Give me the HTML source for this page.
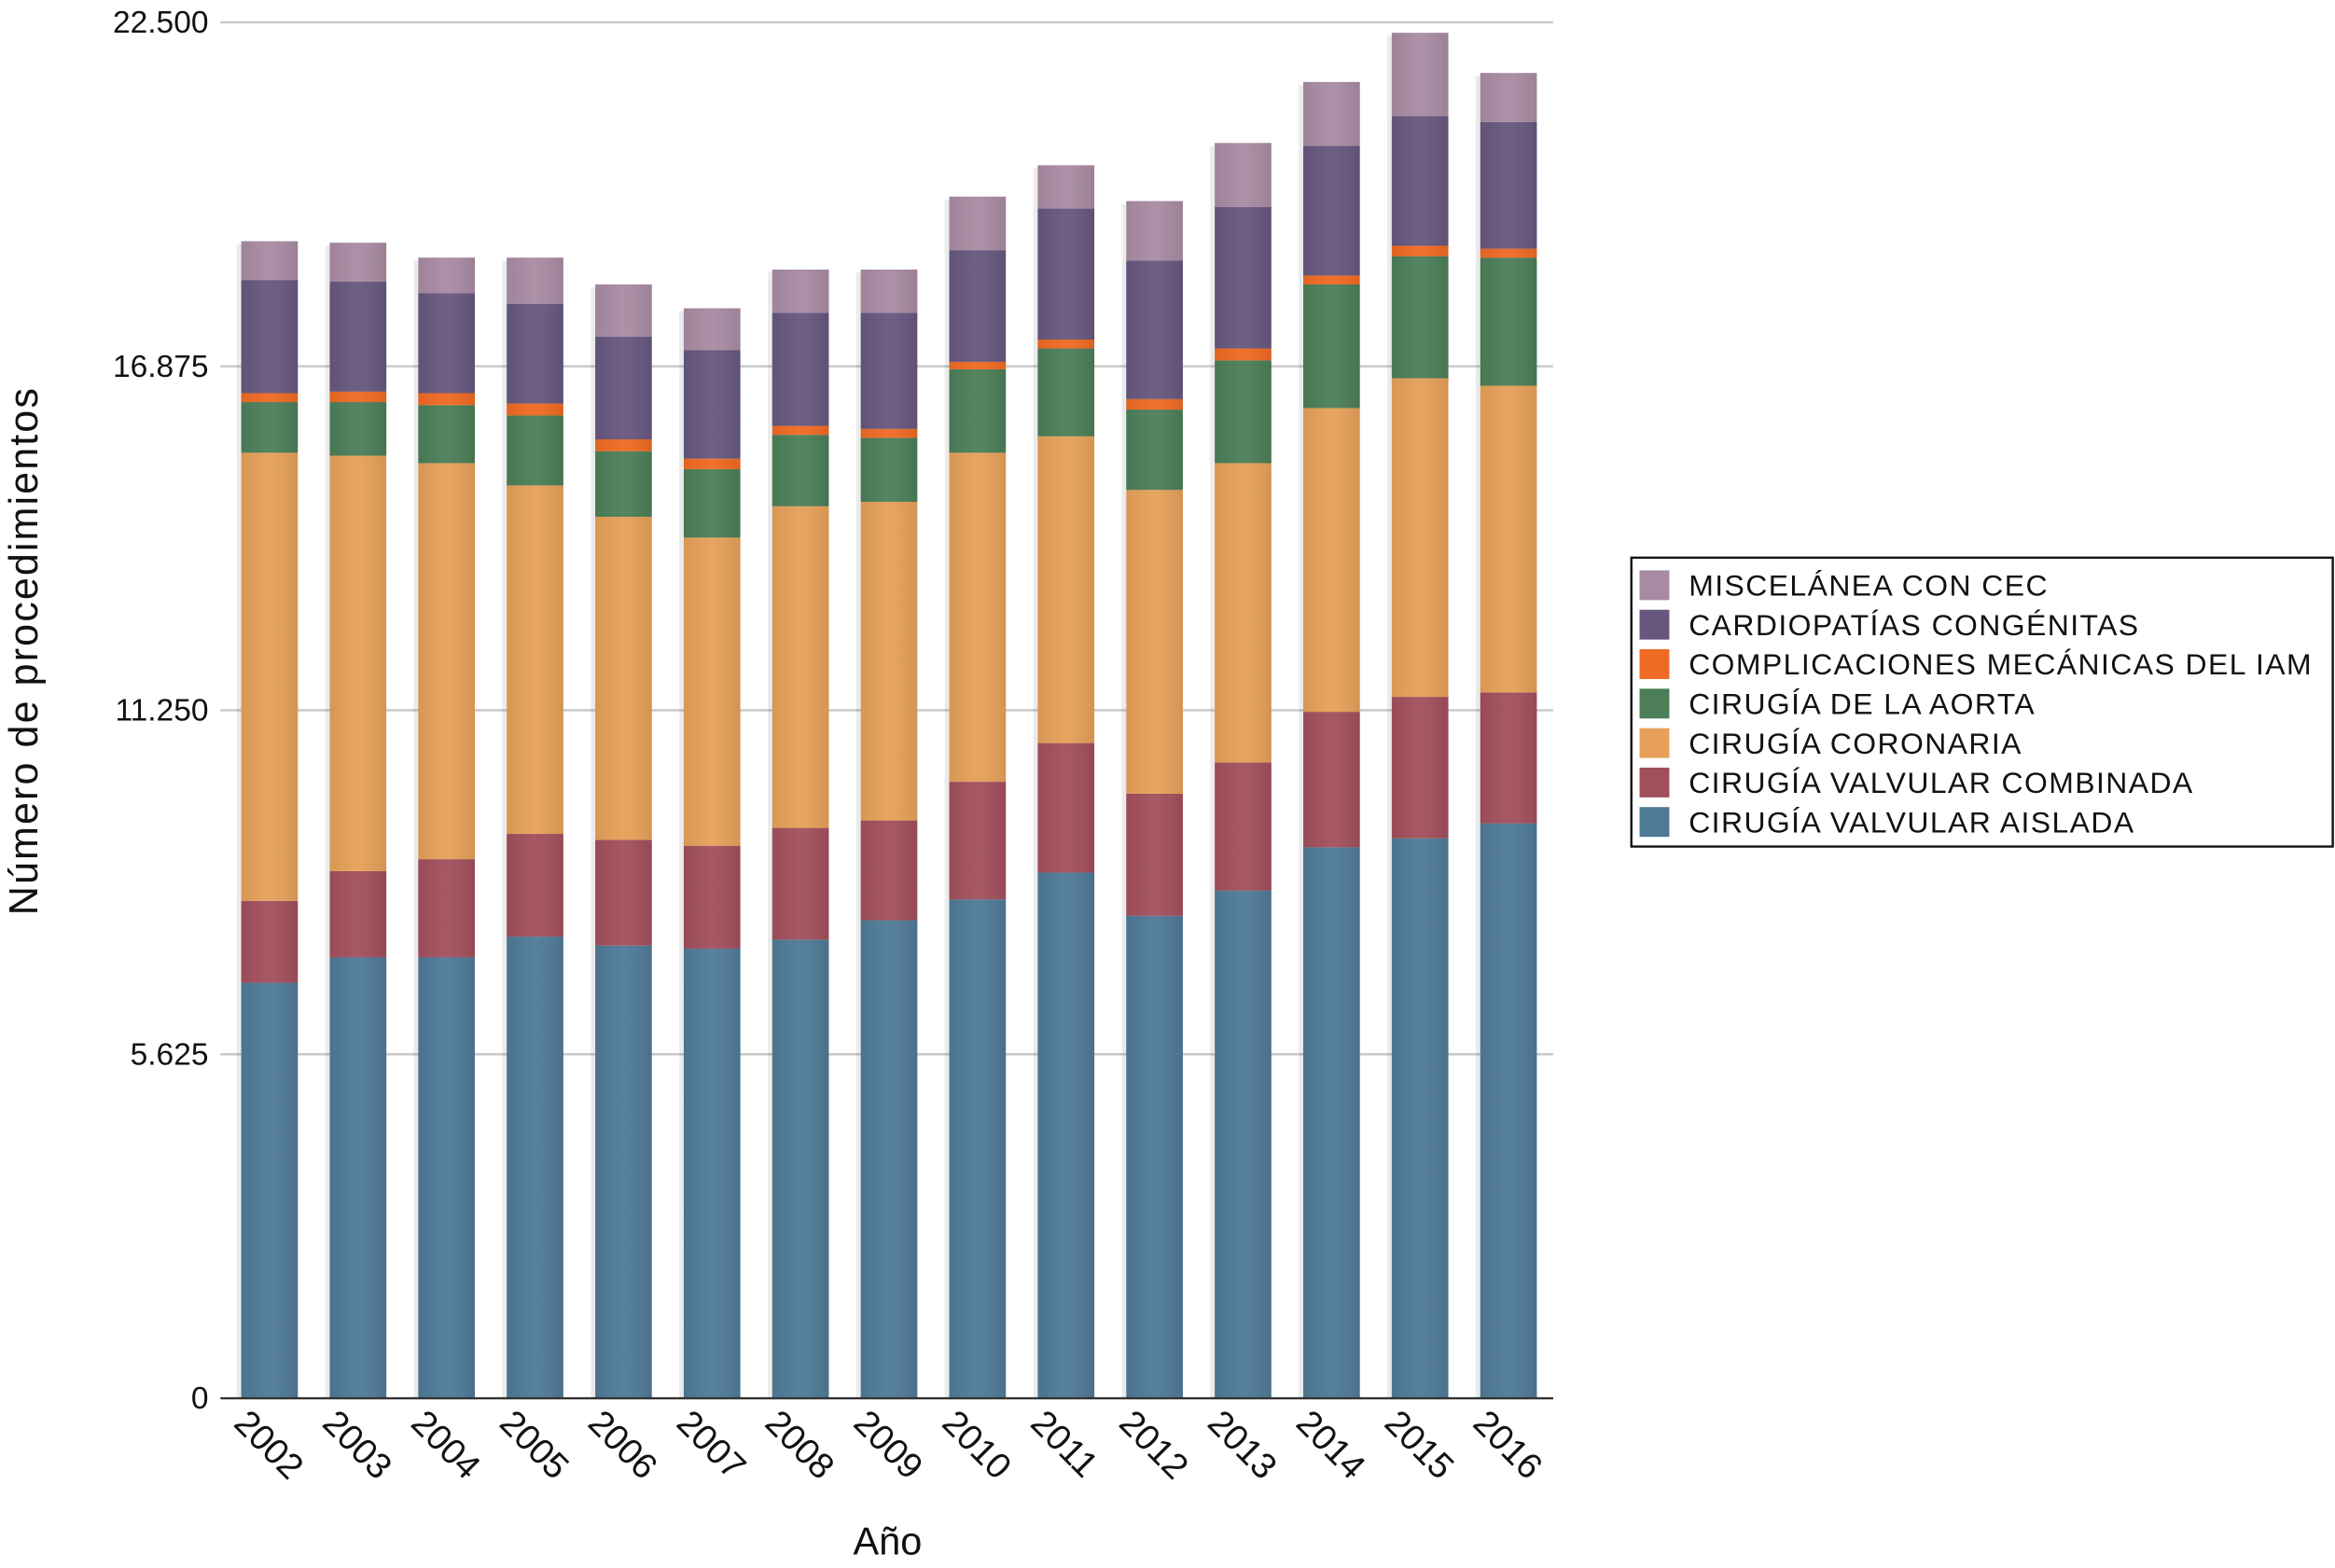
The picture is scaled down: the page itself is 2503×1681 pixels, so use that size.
<!DOCTYPE html>
<html><head><meta charset="utf-8"><style>
html,body{margin:0;padding:0;background:#fff;}
svg{display:block;font-family:"Liberation Sans",Arial,sans-serif;}
</style></head><body>
<svg id="chart" width="2503" height="1681" viewBox="0 0 1568 1053" preserveAspectRatio="none" xmlns="http://www.w3.org/2000/svg">
<defs>
<linearGradient id="shade" x1="0" x2="1" y1="0" y2="0">
<stop offset="0" stop-color="#000" stop-opacity="0.06"/>
<stop offset="0.5" stop-color="#fff" stop-opacity="0.05"/>
<stop offset="1" stop-color="#000" stop-opacity="0.08"/>
</linearGradient>
</defs>
<g id="grid"></g>
<g id="bars"></g>
<g id="axes"></g>
<text transform="translate(25,437) rotate(-90)" text-anchor="middle" font-size="27" letter-spacing="1.3" fill="#111">Número de procedimientos</text>
<text x="596" y="1044" text-anchor="middle" font-size="26" fill="#111">Año</text>
<g id="legend">
<rect x="1095.5" y="374.5" width="471" height="194" fill="#fff" stroke="#111" stroke-width="1.5"/>
</g>
</svg>
<script>
const years = ["2002","2003","2004","2005","2006","2007","2008","2009","2010","2011","2012","2013","2014","2015","2016"];
const seriesNames = ["CIRUGÍA VALVULAR AISLADA","CIRUGÍA VALVULAR COMBINADA","CIRUGÍA CORONARIA","CIRUGÍA DE LA AORTA","COMPLICACIONES MECÁNICAS DEL IAM","CARDIOPATÍAS CONGÉNITAS","MISCELÁNEA CON CEC"];
const seriesColors = ["#4f7a97","#a24f5c","#e6a059","#4c7e58","#ef6a22","#67577f","#a88ba3"];
const valvularAislada = [6794,7208,7208,7549,7402,7354,7500,7816,8157,8596,7889,8303,9010,9156,9399];
const valvularCombinada = [1339,1412,1607,1680,1729,1680,1826,1632,1924,2118,1997,2094,2215,2313,2143];
const coronaria = [7329,6794,6477,5698,5284,5040,5260,5211,5381,5016,4968,4895,4968,5211,5016];
const aorta = [828,876,949,1144,1072,1120,1168,1047,1364,1437,1314,1680,2021,1996,2094];
const iam = [146,171,195,195,194,171,147,146,122,146,171,195,146,171,146];
const congenitas = [1851,1802,1632,1631,1681,1777,1850,1899,1826,2142,2264,2313,2119,2118,2070];
const miscelanea = [633,633,584,755,852,682,706,706,876,707,974,1047,1046,1364,804];
const yTicks = [0,5625,11250,16875,22500];
const yTickLabels = ["0","5.625","11.250","16.875","22.500"];

const series = [valvularAislada,valvularCombinada,coronaria,aorta,iam,congenitas,miscelanea];
const NS="http://www.w3.org/2000/svg";
const yMax=22500, y0=939, y1=15, xFirst=181, xStep=59.43, barW=38, xL=148, xR=1043;
const yScale=v=>y0-(v/yMax)*(y0-y1);
const xScale=i=>xFirst+i*xStep;
function mk(tag,attrs,parent){const e=document.createElementNS(NS,tag);for(const k in attrs)e.setAttribute(k,attrs[k]);parent.appendChild(e);return e;}
const grid=document.getElementById('grid'),bars=document.getElementById('bars'),axes=document.getElementById('axes'),legend=document.getElementById('legend');
yTicks.forEach((t,i)=>{
  const y=yScale(t);
  if(t>0){const l=mk('line',{x1:xL,x2:xR,y1:y,y2:y,stroke:'#c8c8c8','stroke-width':1.5},grid);
  
  }
  const tx=mk('text',{x:140,y:y+7,'text-anchor':'end','font-size':21,fill:'#111'},axes);
  tx.textContent=yTickLabels[i];
  
  
});
const ax=mk('line',{x1:xL,x2:xR,y1:y0,y2:y0,stroke:'#333','stroke-width':1.5},axes);


years.forEach((yr,i)=>{
  const cx=xScale(i);
  let cum=0;
  const sh=mk('rect',{x:cx-barW/2-3,y:yScale(series.reduce((a,s)=>a+s[i],0))+2,width:barW+3,height:0,fill:'#000',opacity:0.08},bars);
  sh.setAttribute('height',y0-parseFloat(sh.getAttribute('y')));
  
  
  series.forEach((s,k)=>{
    const top=yScale(cum+s[i]), bot=yScale(cum);
    const r=mk('rect',{x:cx-barW/2,y:top,width:barW,height:bot-top,fill:seriesColors[k]},bars);
    
    
    cum+=s[i];
  });
  const ov=mk('rect',{x:cx-barW/2,y:yScale(cum),width:barW,height:y0-yScale(cum),fill:'url(#shade)'},bars);
  
  
  const t=mk('text',{transform:`translate(${cx-25},${957}) rotate(45)`,'font-size':24,fill:'#111'},axes);
  t.textContent=yr;
  
  
});
const legendOrder=[6,5,4,3,2,1,0];
legendOrder.forEach((k,j)=>{
  const y=393+j*26.5;
  const sw=mk('rect',{x:1101,y:y-10,width:20,height:20,fill:seriesColors[k]},legend);
  
  
  const t=mk('text',{x:1134,y:y+7,'font-size':20,'letter-spacing':0.9,fill:'#111'},legend);
  t.textContent=seriesNames[k];
  
  
});
</script>
</body></html>
